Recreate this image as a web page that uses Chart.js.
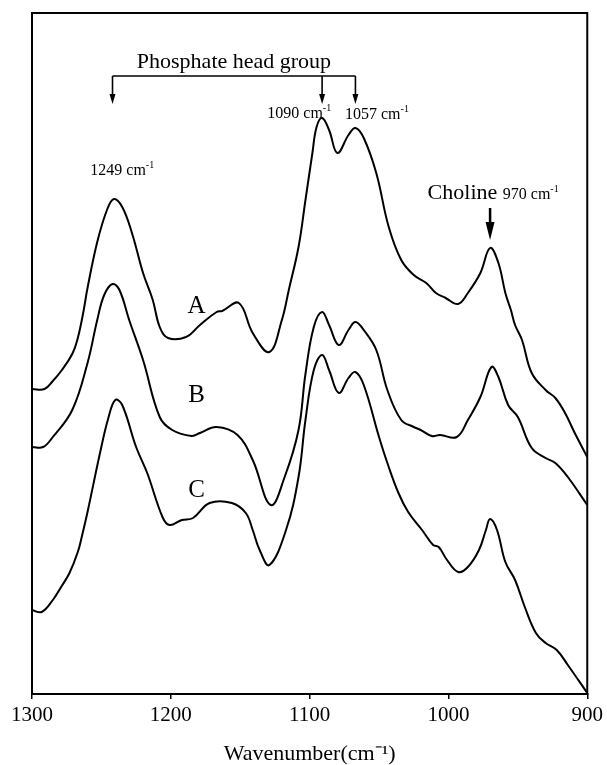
<!DOCTYPE html>
<html lang="en">
<head>
<meta charset="UTF-8">
<title>Phosphate head group and choline bands</title>
<script src="https://cdn.jsdelivr.net/npm/chart.js"></script>
<style>
  html, body { margin: 0; padding: 0; background: #fff; }
  #wrap { width: 607px; height: 765px; }
</style>
</head>
<body>
<div id="wrap"><canvas id="spectra" width="607" height="765"></canvas></div>
<script>
// wavenumber (cm-1) and absorbance (arbitrary units)
const wnA = [1300,1291,1285,1279,1271,1267,1263,1260,1253,1246,1241,1235,1228,1220,1213,1208,1202,1189,1179,1167,1163,
             1151,1141,1129,1120,1115,1108,1103,1098,1095,1091,1086,1080,1072,1067,1061,1052,1043,1034,1025,1016,
             1009,1002,993,986,977,970,964,959,955,952,947,940,930,923,916,909,900];
const absA = [30.5,30.5,31.3,32.3,34.0,35.6,38.2,40.6,45.2,48.4,49.5,48.7,46.1,42.1,39.4,36.7,35.6,35.7,36.9,38.2,38.3,
              39.1,36.1,34.2,37.4,40.4,44.7,49.4,54.1,56.7,57.6,56.4,54.1,55.9,56.6,55.6,52.1,46.7,43.4,41.9,41.1,
              40.1,39.6,39.0,40.1,42.1,44.6,43.1,40.1,38.4,36.9,35.4,32.1,30.4,29.6,28.1,26.1,23.7];

const wnB = [1300,1292,1285,1271,1260,1253,1248,1242,1237,1230,1220,1208,1199,1185,1179,1167,1152,1141,1128,1118,
             1108,1103,1097,1091,1086,1079,1072,1067,1061,1052,1044,1034,1025,1020,1012,1006,994,986,977,969,
             964,957,950,940,930,923,914,900];
const absB = [24.7,24.7,25.7,28.4,33.1,37.4,39.9,41.0,40.4,37.4,33.4,27.7,26.4,25.8,26.1,26.7,25.9,23.4,18.9,21.7,
              26.4,32.0,36.7,38.2,36.9,34.9,36.4,37.2,36.4,34.4,30.4,27.4,26.7,26.4,25.8,25.9,25.7,27.4,29.7,32.7,
              31.7,28.9,27.7,24.6,23.6,23.1,21.7,18.9];

const wnC = [1300,1293,1285,1279,1273,1267,1264,1260,1251,1245,1240,1235,1225,1217,1206,1201,1192,1184,1172,1156,
             1146,1141,1136,1129,1117,1108,1103,1097,1091,1086,1079,1072,1067,1061,1050,1044,1036,1029,1019,1011,
             1007,1001,993,986,978,973,970,965,959,952,945,937,930,922,914,900];
const absC = [8.4,8.2,9.4,10.7,12.1,14.2,15.8,18.2,24.1,27.6,29.4,28.9,24.7,22.1,17.7,16.9,17.4,17.6,19.1,19.1,
              18.1,16.4,14.4,12.9,16.4,21.7,27.4,32.4,33.9,32.4,30.1,31.6,32.2,30.9,25.7,23.1,20.1,18.2,16.4,14.9,
              14.7,13.4,12.2,12.7,14.4,16.4,17.5,16.4,13.2,11.4,8.7,6.1,5.1,4.4,2.9,0.1];

const xTicks = [1300, 1200, 1100, 1000, 900];

// annotation anchors, in axis units
const peakLabels = [
  { num: '1249', x: 1258, y: 51.9 },
  { num: '1090', x: 1130.5, y: 57.6 },
  { num: '1057', x: 1074.5, y: 57.5 }
];
const curveNames = [
  { text: 'A', x: 1181.5, y: 38.1 },
  { text: 'B', x: 1181.5, y: 29.2 },
  { text: 'C', x: 1181.5, y: 19.7 }
];
const bracketArrows = [1242, 1091, 1067];
const bracketLevel = 61.8;
const bracketTip = 59.0;
const cholineArrow = { x: 970, from: 48.6, to: 45.4 };

const serif = '"Liberation Serif", "Times New Roman", serif';

function toPoints(xs, ys) {
  return xs.map((x, i) => ({ x: x, y: ys[i] }));
}

function arrowDown(ctx, x, y1, y2, headW, headL, lw) {
  ctx.lineWidth = lw;
  ctx.beginPath();
  ctx.moveTo(x, y1);
  ctx.lineTo(x, y2 - headL + 1);
  ctx.stroke();
  ctx.beginPath();
  ctx.moveTo(x - headW / 2, y2 - headL);
  ctx.lineTo(x + headW / 2, y2 - headL);
  ctx.lineTo(x, y2);
  ctx.closePath();
  ctx.fill();
}

function cmLabel(ctx, num, x, y, size) {
  ctx.font = size + 'px ' + serif;
  ctx.textAlign = 'left';
  ctx.textBaseline = 'alphabetic';
  const s = num + ' cm';
  ctx.fillText(s, x, y);
  const w = ctx.measureText(s).width;
  ctx.font = Math.round(size * 0.62) + 'px ' + serif;
  ctx.fillText('-1', x + w, y - size * 0.42);
}

const frame = {
  id: 'frame',
  afterDraw(chart) {
    const { ctx, chartArea: a } = chart;
    ctx.save();
    ctx.strokeStyle = '#000';
    ctx.lineWidth = 2;
    ctx.strokeRect(a.left, a.top, a.right - a.left, a.bottom - a.top);
    ctx.restore();
  }
};

const notes = {
  id: 'notes',
  afterDatasetsDraw(chart) {
    const ctx = chart.ctx;
    const xs = chart.scales.x, ys = chart.scales.y;
    const px = v => xs.getPixelForValue(v);
    const py = v => ys.getPixelForValue(v);
    ctx.save();
    ctx.fillStyle = '#000';
    ctx.strokeStyle = '#000';

    // phosphate bracket
    const by = py(bracketLevel);
    ctx.lineWidth = 1.6;
    ctx.beginPath();
    ctx.moveTo(px(bracketArrows[0]), by);
    ctx.lineTo(px(bracketArrows[bracketArrows.length - 1]), by);
    ctx.stroke();
    bracketArrows.forEach(w => arrowDown(ctx, px(w), by, py(bracketTip), 6, 10, 1.6));

    ctx.font = '22px ' + serif;
    ctx.textAlign = 'center';
    ctx.textBaseline = 'alphabetic';
    ctx.fillText('Phosphate head group', (px(bracketArrows[0]) + px(bracketArrows[2])) / 2, py(62.6));

    peakLabels.forEach(p => cmLabel(ctx, p.num, px(p.x), py(p.y), 16));

    // choline
    ctx.font = '22px ' + serif;
    ctx.textAlign = 'left';
    ctx.fillText('Choline', px(1015), py(49.5));
    const cw = ctx.measureText('Choline ').width;
    cmLabel(ctx, '970', px(1015) + cw, py(49.5), 16);
    arrowDown(ctx, px(cholineArrow.x), py(cholineArrow.from), py(cholineArrow.to), 9, 18, 2.5);

    ctx.font = '25px ' + serif;
    ctx.textAlign = 'center';
    curveNames.forEach(c => ctx.fillText(c.text, px(c.x), py(c.y)));
    ctx.restore();
  }
};

const line = { borderColor: '#000', borderWidth: 2, pointRadius: 0, fill: false, tension: 0.4 };

new Chart(document.getElementById('spectra'), {
  type: 'line',
  data: {
    datasets: [
      Object.assign({ label: 'A', data: toPoints(wnA, absA) }, line),
      Object.assign({ label: 'B', data: toPoints(wnB, absB) }, line),
      Object.assign({ label: 'C', data: toPoints(wnC, absC) }, line)
    ]
  },
  options: {
    responsive: false,
    animation: false,
    layout: { padding: { left: 32, right: 18, top: 13, bottom: 0 } },
    plugins: { legend: { display: false }, tooltip: { enabled: false } },
    scales: {
      x: {
        type: 'linear',
        reverse: true,
        min: 900,
        max: 1300,
        afterBuildTicks: s => { s.ticks = xTicks.map(v => ({ value: v })); },
        afterFit: s => { s.height = 71; },
        grid: { drawOnChartArea: false, drawTicks: true, tickLength: 5, color: '#000', lineWidth: 1.5 },
        border: { display: true, color: '#000', width: 2 },
        ticks: {
          color: '#000',
          padding: 4,
          maxRotation: 0,
          font: { family: serif, size: 21 },
          callback: v => String(v)
        },
        title: {
          display: true,
          text: 'Wavenumber(cm\u207B\u00B9)',
          color: '#000',
          padding: 0,
          font: { family: serif, size: 22, lineHeight: 1 }
        }
      },
      y: { type: 'linear', display: false, min: 0, max: 68.1 }
    }
  },
  plugins: [frame, notes]
});
</script>
</body>
</html>
